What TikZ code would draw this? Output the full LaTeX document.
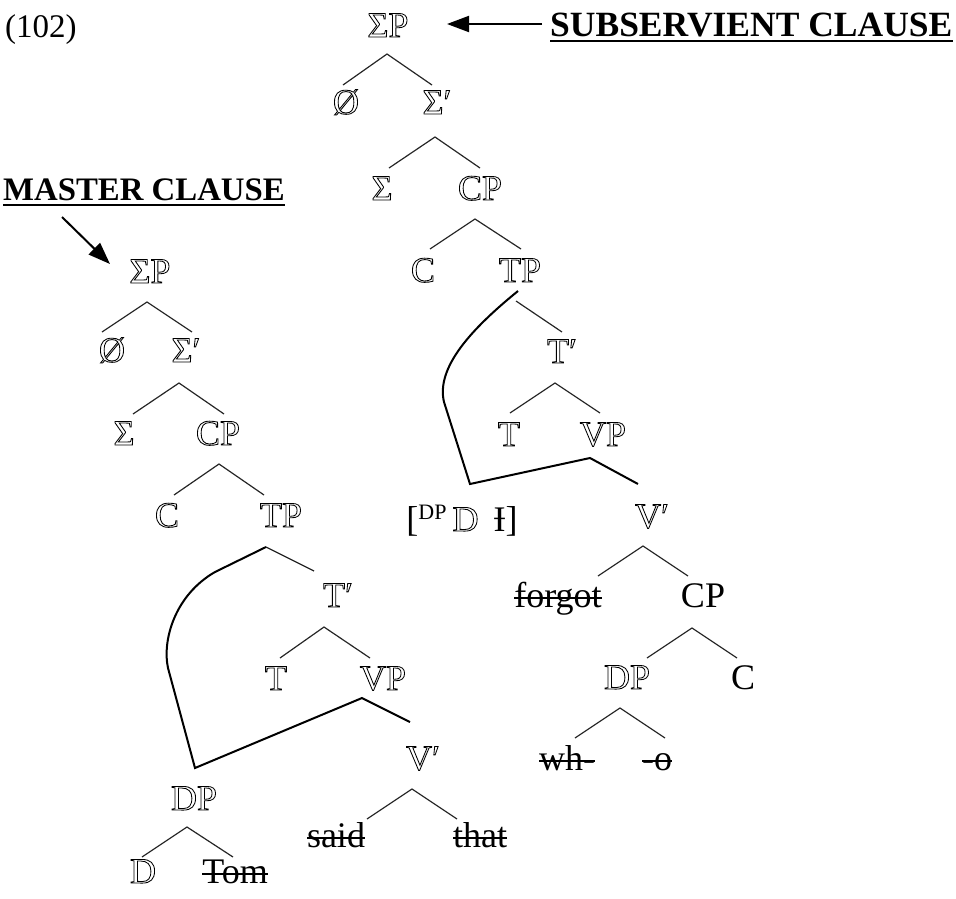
\documentclass[tikz,border=0pt]{standalone}
\usepackage{fontspec}
\setmainfont{Liberation Serif}
\usetikzlibrary{arrows.meta,calc}
\newcommand\hol[1]{\special{pdf:literal direct 1 Tr 0.85 w}#1\special{pdf:literal direct 0 Tr}}
\newsavebox\strkbox
\newcommand\strk[1]{\sbox\strkbox{#1}\rlap{\usebox\strkbox}\rule[0.23em]{\wd\strkbox}{2pt}}
\begin{document}
\begin{tikzpicture}[x=1pt,y=-1pt,
  every node/.style={inner sep=0pt,anchor=base,font=\fontsize{36}{42}\selectfont},
  br/.style={line width=1.2pt,draw=black!85},
  mv/.style={line width=2pt,draw=black},
  lab/.style={font=\fontsize{35.5}{42}\selectfont\bfseries,anchor=base west},
  ul/.style={line width=2.5pt},
  bigarrow/.style={line width=2pt,-{Triangle[length=22pt,width=16pt]}}]
\useasboundingbox (0,0) rectangle (956,898);
% ---------- labels ----------
\node[anchor=base west,font=\fontsize{33}{40}\selectfont] (n102) at (5,37) {(102)};
\node[lab] (sub) at (550,36) {SUBSERVIENT CLAUSE};
\draw[ul] ($(sub.base west)+(0,5)$) -- ($(sub.base east)+(0,5)$);
\node[lab,font=\fontsize{32.8}{40}\selectfont\bfseries] (master) at (3,200) {MASTER CLAUSE};
\draw[ul] ($(master.base west)+(0,5)$) -- ($(master.base east)+(0,5)$);
% ---------- subservient clause tree ----------
\node (sP1) at (388,37) {\hol{ΣP}};
\node (phi1) at (346,114) {\hol{Ø}};
\node (sig1p) at (437,114) {\hol{Σ′}};
\node (sig1) at (382,200) {\hol{Σ}};
\node (cp1) at (480,200) {\hol{CP}};
\node (c1) at (423,282) {\hol{C}};
\node (tp1) at (520,282) {\hol{TP}};
\node (tb1) at (562,363) {\hol{T′}};
\node (t1) at (509,446) {\hol{T}};
\node (vp1) at (603,446) {\hol{VP}};
\node (dpt) at (462,531) {[\raisebox{0.33em}{\fontsize{22}{22}\selectfont DP}\,\hol{D}\, Ɨ]};
\node (vb1) at (652,528) {\hol{V′}};
\node (forgot) at (558,607) {\strk{forgot}};
\node (cp2) at (703,607) {CP};
\node (dp2) at (627,689) {\hol{DP}};
\node (c2) at (743,689) {C};
\node (wh) at (567,770) {\strk{wh-}};
\node (oo) at (657,770) {\strk{-o}};
% arrow to top sigma P
\coordinate (a1s) at (542,24);
\coordinate (a1e) at (447,24);
\draw[bigarrow] (a1s) -- (a1e);
% branches
\coordinate (b1a) at (387,54); \coordinate (b1l) at (343,85); \coordinate (b1r) at (432,85);
\draw[br] (b1l) -- (b1a) -- (b1r);
\coordinate (b2a) at (435,137); \coordinate (b2l) at (389,168); \coordinate (b2r) at (480,168);
\draw[br] (b2l) -- (b2a) -- (b2r);
\coordinate (b3a) at (475,219); \coordinate (b3l) at (430,249); \coordinate (b3r) at (521,249);
\draw[br] (b3l) -- (b3a) -- (b3r);
\coordinate (b4a) at (518,291); \coordinate (b4s) at (516,301); \coordinate (b4r) at (562,332);
\draw[br] (b4s) -- (b4r);
\coordinate (b5a) at (555,383); \coordinate (b5l) at (510,413); \coordinate (b5r) at (600,413);
\draw[br] (b5l) -- (b5a) -- (b5r);
\coordinate (b6a) at (590,458); \coordinate (b6l) at (470,484); \coordinate (b6r) at (638,484);
\draw[mv] (b4a) .. controls (470,330) and (436,368) .. (444,402) -- (b6l) -- (b6a) -- (b6r);
\coordinate (b7a) at (643,546); \coordinate (b7l) at (598,576); \coordinate (b7r) at (688,576);
\draw[br] (b7l) -- (b7a) -- (b7r);
\coordinate (b8a) at (692,628); \coordinate (b8l) at (647,658); \coordinate (b8r) at (737,658);
\draw[br] (b8l) -- (b8a) -- (b8r);
\coordinate (b9a) at (620,708); \coordinate (b9l) at (575,738); \coordinate (b9r) at (665,738);
\draw[br] (b9l) -- (b9a) -- (b9r);
% ---------- master clause tree ----------
\node (sP2) at (150,283) {\hol{ΣP}};
\node (phi2) at (112,362) {\hol{Ø}};
\node (sig2p) at (186,362) {\hol{Σ′}};
\node (sig2) at (124,445) {\hol{Σ}};
\node (cp3) at (218,445) {\hol{CP}};
\node (c3) at (167,527) {\hol{C}};
\node (tp3) at (281,527) {\hol{TP}};
\node (tb3) at (338,607) {\hol{T′}};
\node (t3) at (276,690) {\hol{T}};
\node (vp3) at (383,690) {\hol{VP}};
\node (vb3) at (423,770) {\hol{V′}};
\node (dp3) at (194,810) {\hol{DP}};
\node (said) at (336,847) {\strk{said}};
\node (that) at (480,847) {\strk{that}};
\node (d3) at (143,883) {\hol{D}};
\node (tom) at (235,883) {\strk{Tom}};
\coordinate (a2s) at (62,217);
\coordinate (a2e) at (110,264);
\draw[bigarrow] (a2s) -- (a2e);
\coordinate (c10a) at (147,302); \coordinate (c10l) at (102,332); \coordinate (c10r) at (192,332);
\draw[br] (c10l) -- (c10a) -- (c10r);
\coordinate (c11a) at (179,383); \coordinate (c11l) at (133,414); \coordinate (c11r) at (224,414);
\draw[br] (c11l) -- (c11a) -- (c11r);
\coordinate (c12a) at (219,464); \coordinate (c12l) at (174,495); \coordinate (c12r) at (264,495);
\draw[br] (c12l) -- (c12a) -- (c12r);
\coordinate (c13a) at (266,547); \coordinate (c13r) at (314,571);
\draw[br] (c13a) -- (c13r);
\coordinate (c14a) at (324,627); \coordinate (c14l) at (280,658); \coordinate (c14r) at (370,658);
\draw[br] (c14l) -- (c14a) -- (c14r);
\coordinate (c15a) at (362,698); \coordinate (c15l) at (195,768); \coordinate (c15r) at (410,722);
\draw[mv] (c13a) -- (215,572) .. controls (175,595) and (162,640) .. (168,668) -- (c15l) -- (c15a) -- (c15r);
\coordinate (c16a) at (412,789); \coordinate (c16l) at (367,819); \coordinate (c16r) at (457,819);
\draw[br] (c16l) -- (c16a) -- (c16r);
\coordinate (c17a) at (187,827); \coordinate (c17l) at (142,857); \coordinate (c17r) at (233,857);
\draw[br] (c17l) -- (c17a) -- (c17r);
\end{tikzpicture}
\end{document}
